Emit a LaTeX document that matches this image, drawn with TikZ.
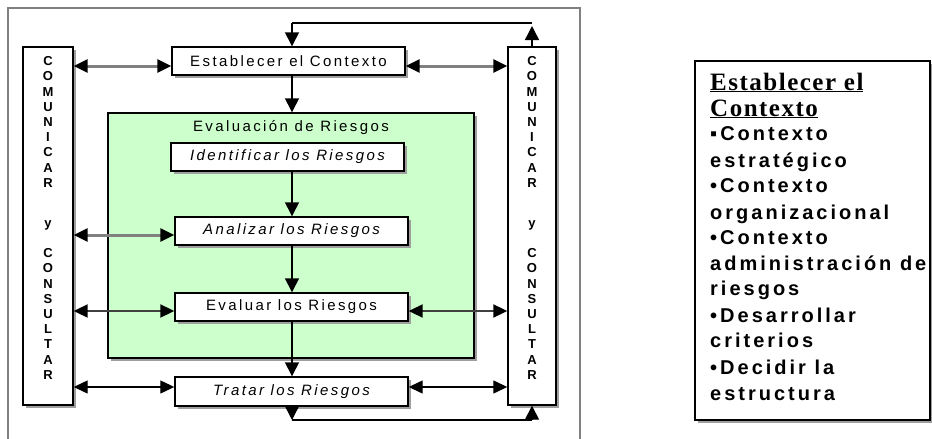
\documentclass[tikz,border=0pt]{standalone}
\usepackage{fontspec}
\setmainfont{Liberation Sans}
\newfontfamily\diafont[LetterSpace=16]{Liberation Sans}
\newfontfamily\panelsans[LetterSpace=15]{Liberation Sans}
\newfontfamily\panelserif[LetterSpace=6]{Liberation Serif}
\usetikzlibrary{arrows.meta,shadows}
\definecolor{lgreen}{HTML}{CCFFCC}
\definecolor{midgray}{HTML}{808080}
\definecolor{dkgray}{HTML}{404040}
\begin{document}
\begin{tikzpicture}[x=1pt,y=-1pt,
  shad/.style={drop shadow={shadow xshift=2.5pt,shadow yshift=-2.5pt,fill=gray!75,opacity=1}},
  box/.style={draw=black,line width=1.4pt,fill=white,shad,inner sep=0pt,
    minimum width=233pt,minimum height=28pt,font=\diafont\fontsize{15}{18}\selectfont},
  sidebox/.style={draw=black,line width=1.4pt,fill=white,shad,inner sep=0pt,minimum height=358pt},
  gbox/.style={draw=black,line width=1.4pt,fill=lgreen,shad,inner sep=0pt},
  letters/.style={align=center,inner sep=0pt,font=\fontsize{13}{15.2}\selectfont\bfseries},
  varr/.style={line width=1.4pt,-{Triangle[length=14pt,width=14pt]}},
  plain/.style={line width=1.4pt},
  tipboth/.style={{Triangle[length=14pt,width=13pt,color=black]}-{Triangle[length=14pt,width=13pt,color=black]}},
  garr/.style={tipboth,line width=3pt,draw=midgray},
  darr/.style={tipboth,line width=2pt,draw=dkgray},
  barr/.style={tipboth,line width=1.3pt,draw=black},
  ptitle/.style={anchor=base west,inner sep=0pt,font=\panelserif\bfseries\fontsize{25}{25}\selectfont},
  pitem/.style={anchor=base west,inner sep=0pt,font=\panelsans\bfseries\fontsize{20}{24}\selectfont}]
\useasboundingbox (0,0) rectangle (932,439);
% outer frame
\draw[midgray,line width=2pt] (8,439) -- (8,8) -- (580,8) -- (580,439);
% green assessment area
\node[gbox,minimum width=366pt,minimum height=245pt] (grn) at (291,235.5) {};
\node[font=\diafont\fontsize{15}{18}\selectfont,inner sep=0pt] (evtitle) at (291,128) {Evaluación de Riesgos};
% boxes
\node[box] (est) at (288.5,61) {Establecer el Contexto};
\node[box] (iden) at (287.5,157) {\itshape Identificar los Riesgos};
\node[box] (anal) at (291.5,231) {\itshape Analizar los Riesgos};
\node[box] (eval) at (291.5,307) {Evaluar los Riesgos};
\node[box,minimum height=29pt] (trat) at (291.5,391.5) {\itshape Tratar los Riesgos};
\node[sidebox,minimum width=50pt] (lbox) at (48,226) {};
\node[sidebox,minimum width=48pt] (rbox) at (532,226) {};
\node[letters] (ltext) at (48,218) {C\\O\\M\\U\\N\\I\\C\\A\\R\\[25pt]y\\[15pt]C\\O\\N\\S\\U\\L\\T\\A\\R};
\node[letters] (rtext) at (532,218) {C\\O\\M\\U\\N\\I\\C\\A\\R\\[25pt]y\\[15pt]C\\O\\N\\S\\U\\L\\T\\A\\R};
% vertical flow
\coordinate (cx) at (292,0);
\draw[varr] (est.south -| cx) -- (grn.north -| cx);
\draw[varr] (iden.south -| cx) -- (anal.north -| cx);
\draw[varr] (anal.south -| cx) -- (eval.north -| cx);
\draw[varr] (eval.south -| cx) -- (trat.north -| cx);
% top loop
\coordinate (tl) at (292,23);
\coordinate (tr) at (532,23);
\draw[varr] (rbox.north) -- ([yshift=-3pt]tr);
\draw[plain] (tr) -- (tl);
\draw[varr] (tl) -- (est.north -| cx);
% bottom loop
\coordinate (bl) at (292,420);
\coordinate (br) at (532,420);
\draw[varr] (trat.south -| cx) -- (bl);
\draw[plain] (bl) -- (br);
\draw[varr] (br) -- (rbox.south);
% horizontal communication arrows
\coordinate (h1) at (0,66);
\coordinate (h2) at (0,235);
\coordinate (h3) at (0,311);
\coordinate (h4) at (0,387);
\draw[garr] (lbox.east |- h1) -- (est.west |- h1);
\draw[garr] (est.east |- h1) -- (rbox.west |- h1);
\draw[garr] (lbox.east |- h2) -- (anal.west |- h2);
\draw[darr] (lbox.east |- h3) -- (eval.west |- h3);
\draw[darr] (eval.east |- h3) -- (rbox.west |- h3);
\draw[barr] (lbox.east |- h4) -- (trat.west |- h4);
\draw[barr] (trat.east |- h4) -- (rbox.west |- h4);
% right panel
\node[draw=black,line width=1.2pt,fill=white,shad,minimum width=235pt,minimum height=359pt,inner sep=0pt] (pbox) at (812.5,240.5) {};
\node[ptitle] (p1) at (710,90) {\underline{Establecer el}};
\node[ptitle] (p2) at (710,116) {\underline{Contexto}};
\node[pitem] (p3) at (710,140) {▪Contexto};
\node[pitem] (p4) at (710,167) {estratégico};
\node[pitem] (p5) at (710,192) {•Contexto};
\node[pitem] (p6) at (710,219) {organizacional};
\node[pitem] (p7) at (710,244) {•Contexto};
\node[pitem] (p8) at (710,270) {administración de};
\node[pitem] (p9) at (710,295) {riesgos};
\node[pitem] (p10) at (710,322) {•Desarrollar};
\node[pitem] (p11) at (710,347) {criterios};
\node[pitem] (p12) at (710,374) {•Decidir la};
\node[pitem] (p13) at (710,400) {estructura};
\end{tikzpicture}
\end{document}
